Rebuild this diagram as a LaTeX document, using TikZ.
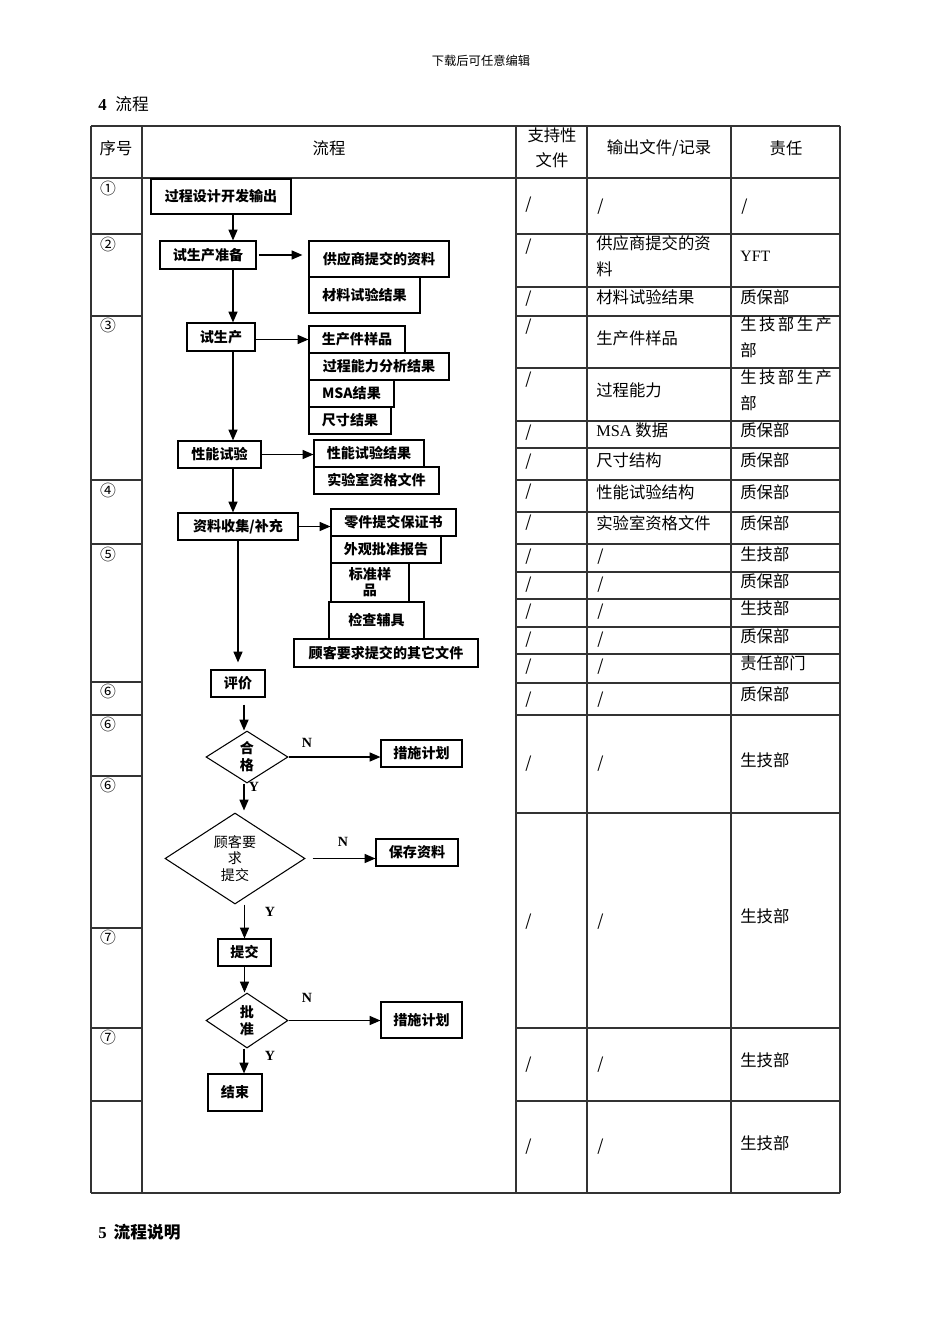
\documentclass[tikz,border=0pt]{standalone}
\usepackage{fontspec}
\setmainfont{Noto Sans CJK SC}
\newfontfamily\serifl{Liberation Serif}
\usetikzlibrary{arrows.meta,shapes.geometric}
\begin{document}
\begin{tikzpicture}[x=0.02cm,y=-0.02cm,
  box/.style={draw, line width=0.65pt, inner sep=0, align=center,
    font=\fontsize{8}{10}\selectfont\bfseries},
  sz/.style 2 args={minimum width=#1*0.02cm, minimum height=#2*0.02cm},
  dia/.style={draw, diamond, line width=0.6pt, inner sep=0, align=center,
    font=\fontsize{8}{9.6}\selectfont\bfseries},
  arr/.style={line width=0.65pt, -{Triangle[length=6.2pt,width=5.2pt]}},
  yn/.style={inner sep=0, font=\serifl\fontsize{8}{9}\selectfont\bfseries},
  tl/.style={line width=0.6pt, draw=black!80},
  cell/.style={anchor=west, inner sep=0, align=left, font=\fontsize{9.3}{14.7}\selectfont},
  sl/.style={anchor=west, inner sep=0, font=\fontsize{9}{10}\selectfont},
  hd/.style={inner sep=0, align=center, font=\fontsize{9.3}{14}\selectfont},
  num/.style={inner sep=0, font=\fontsize{9}{10}\selectfont},
]
\useasboundingbox (0,0) rectangle (950,1344);
\fill[white] (0,0) rectangle (950,1344);

% ---------- page texts ----------
\node[inner sep=0, font=\fontsize{7}{8}\selectfont] (top) at (481,61) {下载后可任意编辑};
\node[anchor=west, inner sep=0, font=\fontsize{9.5}{10}\selectfont] (sec4) at (98,104) {{\serifl\bfseries 4}\hspace{5pt}流程};
\node[anchor=west, inner sep=0, font=\fontsize{9.5}{10}\selectfont\bfseries] (sec5) at (98,1232) {{\serifl\bfseries 5}\hspace{4pt}流程说明};

% ---------- table lines ----------
\foreach \x in {91,142,516,587,731,840} \draw[tl] (\x,126) -- (\x,1193);
\foreach \y in {126,178,1193} \draw[tl] (91,\y) -- (840,\y);
\foreach \y in {234,316,480,544,682,715,776,928,1028,1101} \draw[tl] (91,\y) -- (142,\y);
\foreach \y in {234,287,316,368,421,448,480,512,544,572,599,627,654,683,715,813,1028,1101} \draw[tl] (516,\y) -- (840,\y);

% ---------- header ----------
\node[hd] (h1) at (116,148) {序号};
\node[hd] (h2) at (329,148) {流程};
\node[hd] (h3) at (552,148) {支持性\\文件};
\node[hd] (h4) at (659,148) {输出文件/记录};
\node[hd] (h5) at (786,148) {责任};

% ---------- circled numbers ----------
\node[num] (c1) at (108,188) {①};
\node[num] (c2) at (108,244) {②};
\node[num] (c3) at (108,325) {③};
\node[num] (c4) at (108,490) {④};
\node[num] (c5) at (108,554) {⑤};
\node[num] (c6) at (108,691) {⑥};
\node[num] (c7) at (108,724) {⑥};
\node[num] (c8) at (108,785) {⑥};
\node[num] (c9) at (108,937) {⑦};
\node[num] (c10) at (108,1037) {⑦};

% ---------- right columns ----------
\foreach \y [count=\i] in {205,247,299,327,380,433,462,492,523,557,585,612,640,667,700,764,922,1065,1147}
  \node[sl] (sa\i) at (525,\y) {/};
\foreach \y [count=\i] in {207,557,585,612,640,667,700,764,922,1065,1147}
  \node[sl] (sb\i) at (597,\y) {/};
\node[sl] (r1c) at (741,207) {/};

\node[cell] (r2b) at (596,256) {供应商提交的资\\料};
\node[cell, font=\serifl\fontsize{9}{10}\selectfont] (r2c) at (740,256) {YFT};
\node[cell] (r3b) at (596,297) {材料试验结果};
\node[cell] (r3c) at (740,297) {质保部};
\node[cell] (r4b) at (596,338) {生产件样品};
\node[cell] (r4c) at (740,337.5) {生\kern1.4pt技\kern1.4pt部\kern1.4pt生\kern1.4pt产\\部};
\node[cell] (r5b) at (596,390) {过程能力};
\node[cell] (r5c) at (740,390) {生\kern1.4pt技\kern1.4pt部\kern1.4pt生\kern1.4pt产\\部};
\node[cell] (r6b) at (596,430) {{\serifl MSA} 数据};
\node[cell] (r6c) at (740,430) {质保部};
\node[cell] (r7b) at (596,460) {尺寸结构};
\node[cell] (r7c) at (740,460) {质保部};
\node[cell] (r8b) at (596,492) {性能试验结构};
\node[cell] (r8c) at (740,492) {质保部};
\node[cell] (r9b) at (596,523) {实验室资格文件};
\node[cell] (r9c) at (740,523) {质保部};
\node[cell] (r10c) at (740,554) {生技部};
\node[cell] (r11c) at (740,581) {质保部};
\node[cell] (r12c) at (740,608) {生技部};
\node[cell] (r13c) at (740,636) {质保部};
\node[cell] (r14c) at (740,663) {责任部门};
\node[cell] (r15c) at (740,694) {质保部};
\node[cell] (r16c) at (740,760) {生技部};
\node[cell] (r17c) at (740,916) {生技部};
\node[cell] (r18c) at (740,1060) {生技部};
\node[cell] (r19c) at (740,1143) {生技部};

% ---------- flowchart ----------
\coordinate (sp1) at (233,0);
\coordinate (sp3) at (244,0);

\node[box, sz={140}{35}] (n1) at (221,196.5) {过程设计开发输出};
\node[box, sz={96}{28}] (n2) at (208,255) {试生产准备};
\node[box, sz={140}{36}] (s1) at (379,259) {供应商提交的资料};
\node[box, sz={111}{36}] (s2) at (364.5,295) {材料试验结果};
\node[box, sz={68}{28}] (n3) at (221,337) {试生产};
\node[box, sz={96}{27}] (s3) at (357,339.5) {生产件样品};
\node[box, sz={140}{27}] (s4) at (379,366.5) {过程能力分析结果};
\node[box, sz={85}{27}] (s5) at (351.5,393.5) {MSA结果};
\node[box, sz={82}{27}] (s6) at (350,420.5) {尺寸结果};
\node[box, sz={83}{27}] (n4) at (219.5,454.5) {性能试验};
\node[box, sz={110}{27}] (s7) at (369,453.5) {性能试验结果};
\node[box, sz={125}{27}] (s8) at (376.5,480.5) {实验室资格文件};
\node[box, sz={120}{27}] (n5) at (238,526.5) {资料收集/补充};
\node[box, sz={125}{27}] (s9) at (393.5,522.5) {零件提交保证书};
\node[box, sz={110}{27}] (s10) at (386,549.5) {外观批准报告};
\node[box, sz={78}{39}, font=\fontsize{8}{9}\selectfont\bfseries] (s11) at (370,582.5) {标准样\\品};
\node[box, sz={95}{37}] (s12) at (376.5,620.5) {检查辅具};
\node[box, sz={184}{28}] (s13) at (386,653) {顾客要求提交的其它文件};
\node[box, sz={54}{27}] (n6) at (238,683.5) {评价};
\node[dia, sz={82}{52}, aspect=1.58] (d1) at (247,757) {合\\格};
\node[box, sz={81}{27}] (a1) at (421.5,753.5) {措施计划};
\node[dia, sz={140}{91}, aspect=1.54, font=\fontsize{8}{9.6}\selectfont] (d2) at (235,858.5) {顾客要\\求\\提交};
\node[box, sz={82}{27}] (a2) at (417,852.5) {保存资料};
\node[box, sz={53}{27}] (n7) at (244.5,952.5) {提交};
\node[dia, sz={82}{55}, aspect=1.5] (d3) at (247,1020.5) {批\\准};
\node[box, sz={81}{36}] (a3) at (421.5,1020) {措施计划};
\node[box, sz={54}{37}] (n8) at (235,1092.5) {结束};

% connectors
\draw[arr] (n1.south -| sp1) -- (n2.north -| sp1);
\draw[arr, shorten <=2*0.02cm, shorten >=6*0.02cm] (n2.east) -- (n2.east -| s1.west);
\draw[arr] (n2.south -| sp1) -- (n3.north -| sp1);
\draw[arr] (s3.west -| n3.east) -- (s3.west);
\draw[arr] (n3.south -| sp1) -- (n4.north -| sp1);
\draw[arr] (n4.east) -- (n4.east -| s7.west);
\draw[arr] (n4.south -| sp1) -- (n5.north -| sp1);
\draw[arr] (n5.east) -- (n5.east -| s9.west);
\draw[arr, shorten >=7*0.02cm] (n5.south) -- (n6.north);
\draw[arr, shorten <=7*0.02cm] (n6.south -| sp3) -- (d1.north -| sp3);
\draw[arr] (d1.east) -- (d1.east -| a1.west);
\draw[arr, shorten >=2*0.02cm] (d1.south -| sp3) -- (d2.north -| sp3);
\draw[arr, shorten <=7*0.02cm] (d2.east) -- (d2.east -| a2.west);
\draw[arr] (d2.south -| n7.north) -- (n7.north);
\draw[arr] (n7.south) -- (n7.south |- d3.north);
\draw[arr] (d3.east) -- (d3.east -| a3.west);
\draw[arr] (d3.south -| sp3) -- (n8.north -| sp3);

% Y / N labels
\node[yn] (l1) at (307,743) {N};
\node[yn] (l2) at (254,787) {Y};
\node[yn] (l3) at (343,842) {N};
\node[yn] (l4) at (270,912) {Y};
\node[yn] (l5) at (307,998) {N};
\node[yn] (l6) at (270,1056) {Y};
\end{tikzpicture}
\end{document}
